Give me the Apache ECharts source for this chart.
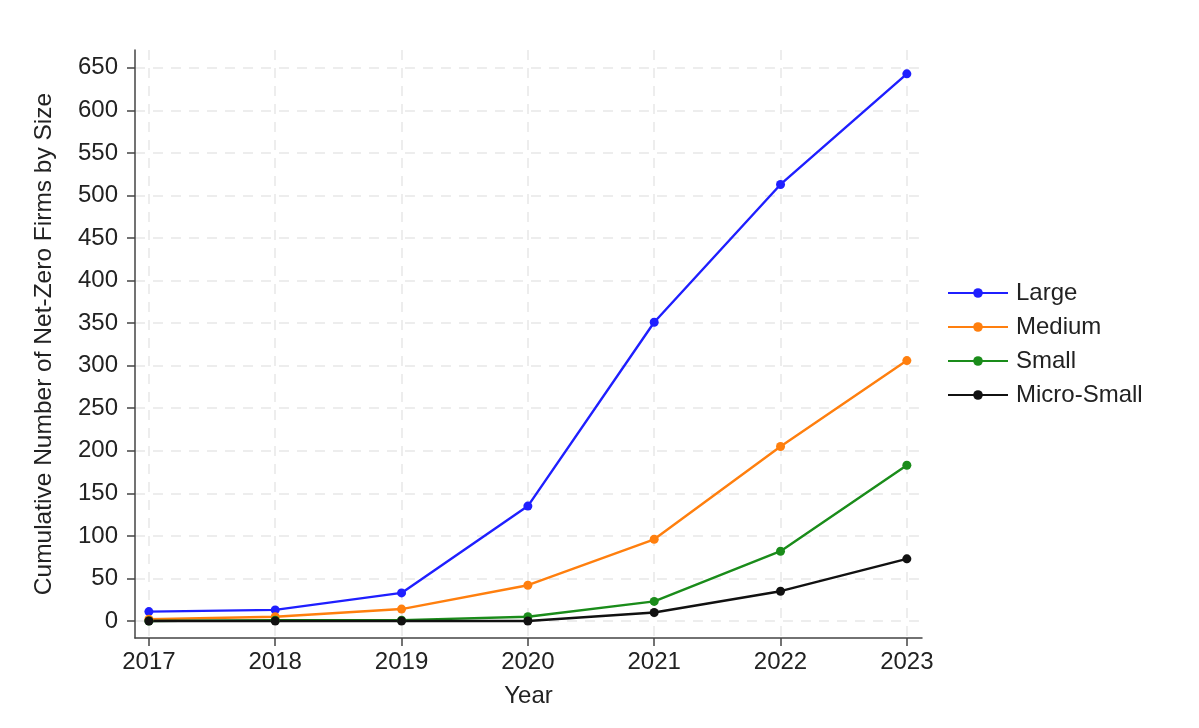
<!DOCTYPE html>
<html>
<head>
<meta charset="utf-8">
<script src="https://cdn.jsdelivr.net/npm/echarts@6/dist/echarts.min.js"></script>
<style>
  html, body { margin: 0; padding: 0; background: #fff; }
  #chart { width: 1199px; height: 728px; }
</style>
</head>
<body>
<div id="chart"></div>
<script>
const years = [2017, 2018, 2019, 2020, 2021, 2022, 2023];
const large = [11, 13, 33, 135, 351, 513, 643];
const medium = [2, 5, 14, 42, 96, 205, 306];
const small = [0, 1, 1, 5, 23, 82, 183];
const microSmall = [0, 0, 0, 0, 10, 35, 73];
const yTicks = [0, 50, 100, 150, 200, 250, 300, 350, 400, 450, 500, 550, 600, 650];

const font = "Liberation Sans";
const pairs = (vals) => years.map((y, i) => [y, vals[i]]);

const mkSeries = (name, vals, color) => ({
  name: name,
  type: "line",
  data: pairs(vals),
  symbol: "circle",
  symbolSize: 9,
  lineStyle: { color: color, width: 2.4 },
  itemStyle: { color: color },
  emphasis: { disabled: true },
});

const option = {
  animation: false,
  backgroundColor: "#fff",
  grid: { left: 135, right: 277, top: 50, bottom: 90 },
  legend: {
    orient: "vertical",
    left: 942,
    top: 276,
    itemWidth: 60,
    itemHeight: 12,
    itemGap: 10,
    textStyle: { fontFamily: font, fontSize: 24, color: "#222", padding: [0, 0, 0, 3] },
    data: ["Large", "Medium", "Small", "Micro-Small"],
  },
  xAxis: {
    type: "value",
    min: 2016.89,
    max: 2023.12,
    name: "Year",
    nameLocation: "middle",
    nameGap: 46,
    nameTextStyle: { fontFamily: font, fontSize: 24, color: "#222" },
    axisLine: { onZero: false, lineStyle: { color: "#444", width: 1.5 } },
    axisTick: { show: true, length: 8, customValues: years, lineStyle: { color: "#444", width: 1.5 } },
    axisLabel: {
      customValues: years,
      fontFamily: font,
      fontSize: 24,
      color: "#222",
      margin: 12,
      formatter: (v) => String(v),
    },
    splitLine: { show: true, lineStyle: { color: "#e8e8e8", type: [10, 8], width: 1.5 } },
  },
  yAxis: {
    type: "value",
    min: -20,
    max: 671,
    name: "Cumulative Number of Net-Zero Firms by Size",
    nameLocation: "middle",
    nameGap: 78,
    nameTextStyle: { fontFamily: font, fontSize: 24.5, color: "#222" },
    axisLine: { show: true, onZero: false, lineStyle: { color: "#444", width: 1.5 } },
    axisTick: { show: true, length: 8, customValues: yTicks, lineStyle: { color: "#444", width: 1.5 } },
    axisLabel: {
      customValues: yTicks,
      fontFamily: font,
      fontSize: 24,
      color: "#222",
      margin: 17,
    },
    splitLine: { show: true, lineStyle: { color: "#e8e8e8", type: [10, 8], width: 1.5 } },
  },
  series: [
    mkSeries("Large", large, "#1f1fff"),
    mkSeries("Medium", medium, "#ff7f0e"),
    mkSeries("Small", small, "#1a8c1a"),
    mkSeries("Micro-Small", microSmall, "#111111"),
  ],
};

const myChart = echarts.init(document.getElementById("chart"));
myChart.setOption(option);
</script>
</body>
</html>
